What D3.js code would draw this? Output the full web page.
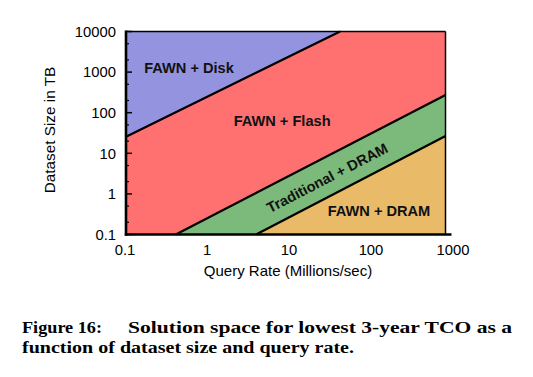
<!DOCTYPE html>
<html>
<head>
<meta charset="utf-8">
<script src="https://cdn.jsdelivr.net/npm/d3@7"></script>
<style>
  html, body { margin: 0; padding: 0; background: #fff; }
  svg { display: block; }
</style>
</head>
<body>
<svg id="chart" width="533" height="377"></svg>
<script>
// ---------------------------------------------------------------------------
// Solution space for lowest 3-year TCO (log-log regions)
// ---------------------------------------------------------------------------

const xTicks = [0.1, 1, 10, 100, 1000];
const yTicks = [0.1, 1, 10, 100, 1000, 10000];
const yMinorMult = [2, 5];

// boundary lines, [queryRate, datasetSize]
const diskFlashEdge = [[0.1, 25.6], [47.8, 10000]];
const flashDramEdge = [[0.42, 0.1], [1000, 273]];
const tradFawnDramEdge = [[4.25, 0.1], [1000, 26.7]];

// region polygons, built from the edges and the plot corners
const regionNames = ['FAWN + Disk', 'FAWN + Flash', 'Traditional + DRAM', 'FAWN + DRAM'];
const regionColors = ['#9393e0', '#ff7070', '#7cba7c', '#e9ba68'];
const regionPolys = [
    [[0.1, 10000], diskFlashEdge[1], diskFlashEdge[0]],
    [diskFlashEdge[0], diskFlashEdge[1], [1000, 10000], flashDramEdge[1], flashDramEdge[0], [0.1, 0.1]],
    [flashDramEdge[0], flashDramEdge[1], tradFawnDramEdge[1], tradFawnDramEdge[0]],
    [tradFawnDramEdge[0], tradFawnDramEdge[1], [1000, 0.1]]
];
// label anchor points (data units) and rotation
const labelPos = [[0.615, 1300], [9, 62], [33, 2.5], [147, 0.38]];
const labelRot = [0, 0, -27.4, 0];

const svg = d3.select('#chart');
const x = d3.scaleLog().domain([0.1, 1000]).range([126, 445.5]);
const y = d3.scaleLog().domain([0.1, 10000]).range([234.5, 31.5]);
const xLabel = d3.scaleLog().domain([0.1, 1000]).range([125, 453]);

const line = d3.line().x(d => x(d[0])).y(d => y(d[1]));

// regions
svg.append('g').selectAll('path')
    .data(regionPolys)
    .join('path')
    .attr('d', d => line(d) + 'Z')
    .attr('fill', (d, i) => regionColors[i]);

// boundaries
svg.append('g').selectAll('path')
    .data([diskFlashEdge, flashDramEdge, tradFawnDramEdge])
    .join('path')
    .attr('d', line)
    .attr('fill', 'none')
    .attr('stroke', '#000')
    .attr('stroke-width', 2.3);

const font = 'Liberation Sans, Arial, sans-serif';

// region labels
svg.append('g').selectAll('text')
    .data(regionNames)
    .join('text')
    .attr('transform', (d, i) => `translate(${x(labelPos[i][0])},${y(labelPos[i][1])}) rotate(${labelRot[i]})`)
    .attr('text-anchor', 'middle')
    .attr('dy', '0.36em')
    .attr('font-family', font)
    .attr('font-weight', 'bold')
    .attr('font-size', 14.6)
    .attr('fill', '#111')
    .text(d => d);

// frame: thin top/right, heavy left/bottom
const frame = svg.append('g').attr('stroke', '#000').attr('fill', 'none');
frame.append('line').attr('x1', x(0.1)).attr('x2', x(1000)).attr('y1', y(10000)).attr('y2', y(10000)).attr('stroke-width', 1.5);
frame.append('line').attr('x1', x(1000)).attr('x2', x(1000)).attr('y1', y(10000)).attr('y2', y(0.1)).attr('stroke-width', 1.5);
frame.append('line').attr('x1', x(0.1)).attr('x2', x(0.1)).attr('y1', y(10000) - 1).attr('y2', y(0.1) + 1.2).attr('stroke-width', 2.6);
frame.append('line').attr('x1', x(0.1) - 1.2).attr('x2', x(1000) + 6).attr('y1', y(0.1)).attr('y2', y(0.1)).attr('stroke-width', 2.6);

// y ticks (inward)
const yMinor = [];
yTicks.slice(0, -1).forEach(t => yMinorMult.forEach(m => yMinor.push(t * m)));
frame.selectAll('.ymaj')
    .data(yTicks)
    .join('line')
    .attr('x1', x(0.1)).attr('x2', x(0.1) + 6)
    .attr('y1', d => y(d)).attr('y2', d => y(d))
    .attr('stroke-width', 1.5);
frame.selectAll('.ymin')
    .data(yMinor)
    .join('line')
    .attr('x1', x(0.1)).attr('x2', x(0.1) + 3)
    .attr('y1', d => y(d)).attr('y2', d => y(d))
    .attr('stroke-width', 1.2);

// y tick labels
svg.append('g').selectAll('text')
    .data(yTicks)
    .join('text')
    .attr('x', x(0.1) - 10)
    .attr('y', d => y(d))
    .attr('dy', '0.36em')
    .attr('text-anchor', 'end')
    .attr('font-family', font)
    .attr('font-size', 14.8)
    .text(d => d3.format('~g')(d));

// x tick labels
svg.append('g').selectAll('text')
    .data(xTicks)
    .join('text')
    .attr('x', d => xLabel(d))
    .attr('y', 255)
    .attr('text-anchor', 'middle')
    .attr('font-family', font)
    .attr('font-size', 14.8)
    .text(d => d3.format('~g')(d));

// axis titles
svg.append('text')
    .attr('x', 288).attr('y', 276)
    .attr('text-anchor', 'middle')
    .attr('font-family', font)
    .attr('font-size', 15)
    .text('Query Rate (Millions/sec)');

svg.append('text')
    .attr('transform', 'translate(55,130) rotate(-90)')
    .attr('text-anchor', 'middle')
    .attr('font-family', font)
    .attr('font-size', 15.3)
    .text('Dataset Size in TB');

// caption, stretched to the widths of the printed figure caption
const cap = svg.append('g')
    .attr('font-family', 'Liberation Serif, Times New Roman, serif')
    .attr('font-weight', 'bold')
    .attr('font-size', 17)
    .attr('fill', '#000');

cap.append('text').attr('x', 22).attr('y', 332.5)
    .attr('textLength', 80).attr('lengthAdjust', 'spacingAndGlyphs')
    .text('Figure 16:');
cap.append('text').attr('x', 128).attr('y', 332.5)
    .attr('textLength', 384).attr('lengthAdjust', 'spacingAndGlyphs')
    .text('Solution space for lowest 3-year TCO as a');
cap.append('text').attr('x', 22).attr('y', 352.5)
    .attr('textLength', 332).attr('lengthAdjust', 'spacingAndGlyphs')
    .text('function of dataset size and query rate.');
</script>
</body>
</html>
